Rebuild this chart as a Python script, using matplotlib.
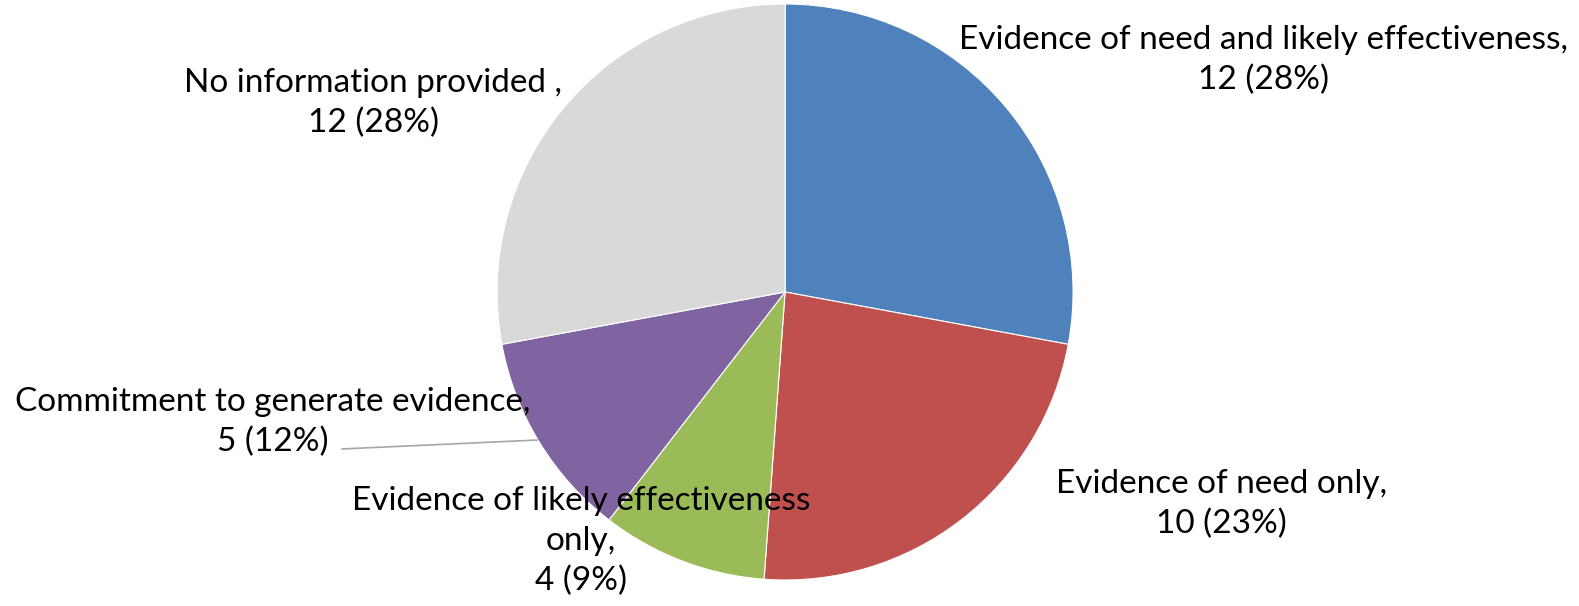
import matplotlib
matplotlib.use('Agg')
from matplotlib import pyplot as plt

categories = ['Evidence of need and likely effectiveness',
              'Evidence of need only',
              'Evidence of likely effectiveness only',
              'Commitment to generate evidence',
              'No information provided ']
counts = [12, 10, 4, 5, 12]
colors = ['#4F81BD', '#C0504D', '#9BBB59', '#8064A2', '#D9D9D9']

# label text, laid out like the original (line breaks)
label_texts = ['Evidence of need and likely effectiveness,\n12 (28%)',
               'Evidence of need only,\n10 (23%)',
               'Evidence of likely effectiveness\nonly,\n4 (9%)',
               'Commitment to generate evidence,\n5 (12%)',
               'No information provided ,\n12 (28%)']
label_pos = [(1.66, 0.806), (1.514, -0.736), (-0.708, -0.865),
             (-1.78, -0.451), (-1.43, 0.656)]

plt.rcParams['font.family'] = ['Lato', 'DejaVu Sans']

fig = plt.figure(figsize=(15.79, 6.06), dpi=100)
ax = fig.add_axes([0.3148, 0.0429, 0.3648, 0.9505])
ax.pie(counts, colors=colors, startangle=90, counterclock=False,
       wedgeprops=dict(edgecolor='white', linewidth=0.8))
ax.set_xlim(-1, 1)
ax.set_ylim(-1, 1)
ax.set_aspect('equal')
ax.axis('off')

# leader line for the commitment label
ax.plot([-1.538, -0.861], [-0.545, -0.514], color='#A6A6A6', lw=1.2,
        clip_on=False, zorder=3)

for txt, (x, y) in zip(label_texts, label_pos):
    ax.text(x, y, txt, ha='center', va='center', fontsize=24,
            linespacing=1.4, color='black', zorder=4, clip_on=False)

fig.savefig('out.png', dpi=100)
